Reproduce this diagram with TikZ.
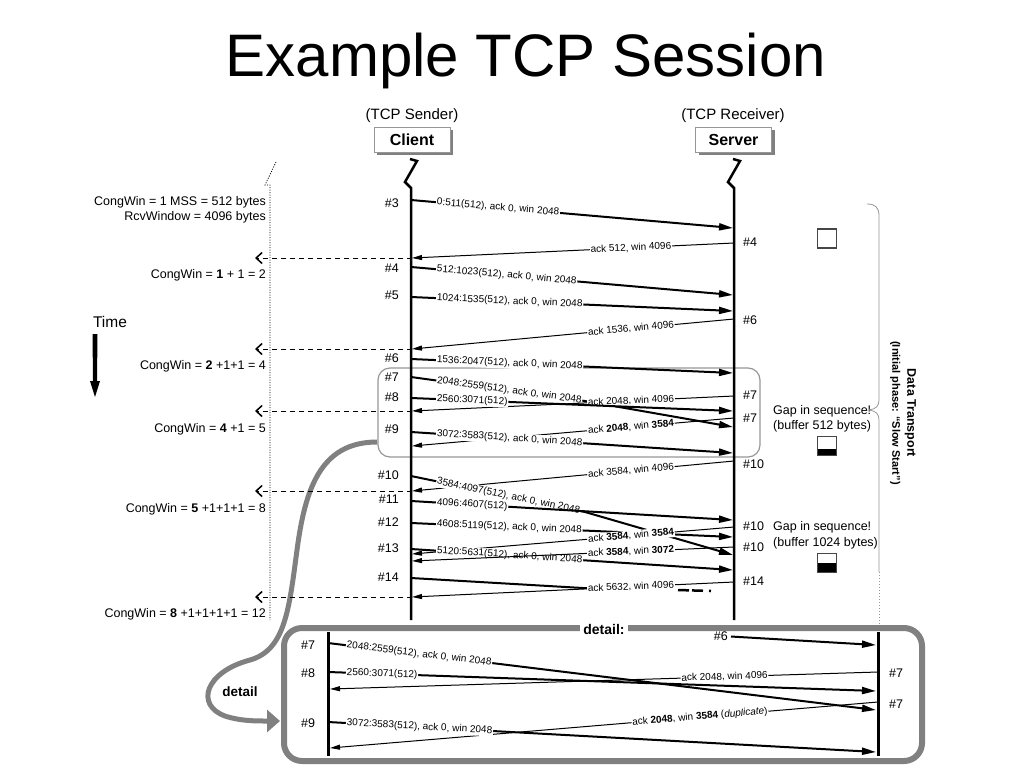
\documentclass[tikz,border=0pt]{standalone}
\usepackage{fontspec}
\setmainfont{Liberation Sans}
\usetikzlibrary{arrows.meta,shadows}
\definecolor{calloutgray}{RGB}{128,128,128}
\definecolor{framegray}{RGB}{150,150,150}
\definecolor{iconedge}{RGB}{70,70,70}
\begin{document}
\begin{tikzpicture}[x=1pt,y=-1pt,
  lbl/.style={font=\fontsize{12.5}{14}\selectfont, inner sep=0pt},
  lblr/.style={lbl, anchor=mid east},
  lbll/.style={lbl, anchor=mid west},
  msg/.style={font=\fontsize{10}{11}\selectfont, fill=white, inner sep=0.8pt, sloped},
  dmsg/.style={msg, pos=0.075, anchor=west},
  kmsg/.style={msg, pos=0.14, anchor=west},
  ddmsg/.style={msg, pos=0.031, anchor=west},
  amsg/.style={msg, pos=0.32},
  data/.style={line width=2pt, -{Triangle[length=14pt,width=7pt]}},
  ack/.style={line width=1pt, -{Triangle[length=10pt,width=5pt]}},
  cwarrow/.style={line width=1pt, dash pattern=on 5pt off 4pt, -{Straight Barb[length=6pt,width=11pt,line width=1.5pt]}},
  life/.style={line width=2.5pt},
  hostbox/.style={draw=framegray, fill=white, font=\bfseries\fontsize{16}{18}\selectfont, minimum width=76pt, minimum height=25pt, drop shadow={shadow xshift=3pt, shadow yshift=-3pt, fill=gray, opacity=1}},
  icon/.style={draw=iconedge, line width=1.5pt, minimum size=19pt, inner sep=0pt},
]
\useasboundingbox (0,0) rectangle (1024,768);

% title and hosts
\node[font=\fontsize{60}{60}\selectfont, anchor=base] (title) at (526,76) {Example TCP Session};
\node[font=\fontsize{15}{17}\selectfont] (sendlbl) at (412,116) {(TCP Sender)};
\node[font=\fontsize{15}{17}\selectfont] (recvlbl) at (733,116) {(TCP Receiver)};
\node[hostbox] (client) at (412,139.5) {Client};
\node[hostbox] (server) at (733.5,139.5) {Server};

% highlight box and callout
\node[draw=framegray, line width=1.2pt, rounded corners=12pt, minimum width=382pt, minimum height=89pt, inner sep=0pt] (hl) at (569,412.5) {};
\coordinate (hlout) at (377,442);
\coordinate (detin) at (280,721);
\draw[calloutgray, line width=5pt, -{Triangle[length=13pt,width=22pt]}] (hlout) .. controls (320,442) and (305,490) .. (297,550) .. controls (289,610) and (285,650) .. (250,660) .. controls (205,672) and (195,705) .. (225,716) .. controls (240,721) and (255,721) .. (detin);
\node[font=\bfseries\fontsize{13.5}{15}\selectfont] (detlbl) at (240,692) {detail};

% lifelines
\coordinate (ctop) at (411,188); \coordinate (cbot) at (411,620);
\draw[life] (410,159) -- (417,161) -- (405,182) -- (ctop) -- (cbot);
\coordinate (stop) at (734,188); \coordinate (sbot) at (734,620);
\draw[life] (733,159) -- (740,161) -- (728,182) -- (stop) -- (sbot);
\coordinate (htop) at (270,185); \coordinate (hbot) at (270,620);
\draw[line width=0.8pt, dash pattern=on 1pt off 1.5pt] (276,162) -- (265,185) -- (htop) -- (hbot);

% CongWin labels
\node[lblr] (cw0) at (266,203) {CongWin = 1 MSS = 512 bytes};
\node[lblr] (rw0) at (266,218) {RcvWindow = 4096 bytes};
\node[lblr] (cw1) at (266,276) {CongWin = \textbf{1} + 1 = 2};
\node[lblr] (cw2) at (266,367) {CongWin = \textbf{2} +1+1 = 4};
\node[lblr] (cw3) at (266,430) {CongWin = \textbf{4} +1 = 5};
\node[lblr] (cw4) at (266,510) {CongWin = \textbf{5} +1+1+1 = 8};
\node[lblr] (cw5) at (266,615) {CongWin = \textbf{8} +1+1+1+1 = 12};

% time arrow
\node[font=\fontsize{15.5}{17}\selectfont] (time) at (110,322) {Time};
\fill (92.5,334) -- (97.5,334) -- (97,381) -- (100,381) -- (95,397) -- (90,381) -- (93,381) -- cycle;

% sequence numbers, client side
\node[lblr] (n3) at (399,205) {\#3};
\node[lblr] (n4) at (399,270) {\#4};
\node[lblr] (n5) at (399,297) {\#5};
\node[lblr] (n6) at (399,360) {\#6};
\node[lblr] (n7) at (399,379) {\#7};
\node[lblr] (n8) at (399,399) {\#8};
\node[lblr] (n9) at (399,431) {\#9};
\node[lblr] (n10) at (399,477) {\#10};
\node[lblr] (n11) at (399,501) {\#11};
\node[lblr] (n12) at (399,524) {\#12};
\node[lblr] (n13) at (399,550) {\#13};
\node[lblr] (n14) at (399,579) {\#14};

% sequence numbers, server side
\node[lbll] (r4) at (743,244) {\#4};
\node[lbll] (r6) at (743,322) {\#6};
\node[lbll] (r7) at (743,397) {\#7};
\node[lbll] (r7b) at (743,420) {\#7};
\node[lbll] (r10) at (743,466) {\#10};
\node[lbll] (r10b) at (743,528) {\#10};
\node[lbll] (r10c) at (743,549) {\#10};
\node[lbll] (r14) at (743,583) {\#14};

% messages
\coordinate (c3) at (411,200); \coordinate (s3) at (733,228);
\draw[data] (c3) -- node[dmsg] {0:511(512), ack 0, win 2048} (s3);
\coordinate (s4) at (734,243); \coordinate (c4) at (412,258); \coordinate (w1) at (255,258);
\draw[ack] (s4) -- node[amsg] {ack 512, win 4096} (c4);
\draw[cwarrow] (c4) -- (w1);
\coordinate (c4d) at (411,267); \coordinate (s4d) at (733,295);
\draw[data] (c4d) -- node[dmsg] {512:1023(512), ack 0, win 2048} (s4d);
\coordinate (c5d) at (411,297); \coordinate (s5d) at (733,311);
\draw[data] (c5d) -- node[dmsg] {1024:1535(512), ack 0, win 2048} (s5d);
\coordinate (s6) at (734,319); \coordinate (c6) at (412,349); \coordinate (w2) at (255,349);
\draw[ack] (s6) -- node[amsg] {ack 1536, win 4096} (c6);
\draw[cwarrow] (c6) -- (w2);
\coordinate (c6d) at (411,359); \coordinate (s6d) at (733,373);
\draw[data] (c6d) -- node[dmsg] {1536:2047(512), ack 0, win 2048} (s6d);
\coordinate (c7d) at (411,377); \coordinate (k7d) at (585,401); \coordinate (s7d) at (733,427);
\draw[data] (c7d) -- node[kmsg] {2048:2559(512), ack 0, win 2048} (k7d) -- (s7d);
\coordinate (s7) at (734,396); \coordinate (c7) at (412,411); \coordinate (w3) at (255,411);
\draw[ack] (s7) -- node[amsg] {ack 2048, win 4096} (c7);
\draw[cwarrow] (c7) -- (w3);
\coordinate (c8d) at (411,398); \coordinate (s8d) at (733,411);
\draw[data] (c8d) -- node[dmsg] {2560:3071(512)} (s8d);
\coordinate (s7b) at (734,418); \coordinate (c7b) at (412,446);
\draw[ack] (s7b) -- node[amsg] {ack \textbf{2048}, win \textbf{3584}} (c7b);
\coordinate (c9d) at (411,432); \coordinate (s9d) at (733,453);
\draw[data] (c9d) -- node[dmsg] {3072:3583(512), ack 0, win 2048} (s9d);
\coordinate (s10) at (734,461); \coordinate (c10) at (412,491); \coordinate (w4) at (255,491);
\draw[ack] (s10) -- node[amsg] {ack 3584, win 4096} (c10);
\draw[cwarrow] (c10) -- (w4);
\coordinate (c10d) at (411,476); \coordinate (k10d) at (585,512); \coordinate (s10d) at (733,555);
\draw[data] (c10d) -- node[kmsg] {3584:4097(512), ack 0, win 2048} (k10d) -- (s10d);
\coordinate (c11d) at (411,501); \coordinate (s11d) at (733,520);
\draw[data] (c11d) -- node[dmsg] {4096:4607(512)} (s11d);
\coordinate (c12d) at (411,523); \coordinate (s12d) at (733,537);
\draw[data] (c12d) -- node[dmsg] {4608:5119(512), ack 0, win 2048} (s12d);
\coordinate (s10b) at (734,527); \coordinate (c10b) at (412,554);
\draw[ack] (s10b) -- node[amsg] {ack \textbf{3584}, win \textbf{3584}} (c10b);
\coordinate (c13d) at (411,549); \coordinate (s13d) at (733,570);
\draw[data] (c13d) -- node[dmsg] {5120:5631(512), ack 0, win 2048} (s13d);
\coordinate (s10c) at (734,547); \coordinate (c10c) at (412,561);
\draw[ack] (s10c) -- node[amsg] {ack \textbf{3584}, win \textbf{3072}} (c10c);
\coordinate (c14d) at (411,578); \coordinate (lost) at (600,589);
\draw[line width=2pt] (c14d) -- (lost);
\draw[line width=2.5pt, dash pattern=on 11pt off 3pt on 11pt off 6pt on 2pt off 20pt] (678,590) -- (711,591);
\coordinate (s14) at (734,582); \coordinate (c14) at (412,597); \coordinate (w5) at (255,597);
\draw[ack] (s14) -- node[amsg] {ack 5632, win 4096} (c14);
\draw[cwarrow] (c14) -- (w5);

% receiver buffer icons
\node[icon] (buf0) at (827,238.5) {};
\node[icon] (buf1) at (827,446) {};
\fill (818,449) rectangle (836,455);
\node[icon] (buf2) at (827,563) {};
\fill (818,563) rectangle (836,572);
\node[lbll] (gap1) at (773,412) {Gap in sequence!};
\node[lbll] (gap1b) at (773,427) {(buffer 512 bytes)};
\node[lbll] (gap2) at (773,528) {Gap in sequence!};
\node[lbll] (gap2b) at (773,544) {(buffer 1024 bytes)};

% brace
\draw[framegray, line width=0.8pt] (867,204) .. controls (876,204) and (879,208) .. (879,216) -- (879,400) .. controls (879,406) and (876,409) .. (869,410) .. controls (876,411) and (879,414) .. (879,420) -- (879,572);
\draw[framegray, line width=0.8pt, dash pattern=on 1pt off 2pt] (879,572) -- (879,624);
\node[rotate=-90, align=center, font=\bfseries\fontsize{11}{15}\selectfont] (phase) at (903,413) {{\fontsize{12.5}{15}\selectfont Data Transport}\\(Initial phase: “Slow Start”)};

% detail box
\node[draw=calloutgray, line width=6pt, rounded corners=18pt, minimum width=638pt, minimum height=133pt, inner sep=0pt] (detail) at (603,694.5) {};
\node[fill=white, font=\bfseries\fontsize{14}{16}\selectfont, inner sep=3pt] (dettitle) at (604,629) {detail:};
\coordinate (dct) at (328,632); \coordinate (dcb) at (328,756);
\coordinate (dst) at (878,632); \coordinate (dsb) at (878,756);
\draw[line width=3pt] (dct) -- (dcb);
\draw[line width=3pt] (dst) -- (dsb);
\node[lblr] (dn6) at (728,638) {\#6};
\coordinate (ds6) at (876,645);
\draw[data, shorten <=3pt] (dn6.east) -- (ds6);
\node[lbl] (dn7) at (308,645) {\#7};
\node[lbl] (dn8) at (308,673) {\#8};
\node[lbl] (dn9) at (308,723) {\#9};
\node[lbl] (dr7) at (896,673) {\#7};
\node[lbl] (dr7b) at (896,704) {\#7};
\coordinate (dc7) at (328,643); \coordinate (ds7) at (876,710);
\draw[data] (dc7) -- node[ddmsg] {2048:2559(512), ack 0, win 2048} (ds7);
\coordinate (dc8) at (328,672); \coordinate (ds8) at (876,691);
\draw[data] (dc8) -- node[ddmsg] {2560:3071(512)} (ds8);
\coordinate (das7) at (878,672); \coordinate (dac7) at (330,689);
\draw[ack] (das7) -- node[msg, pos=0.28] {ack 2048, win 4096} (dac7);
\coordinate (das7b) at (878,702); \coordinate (dac7b) at (330,748);
\draw[ack] (das7b) -- node[msg, pos=0.325] {ack \textbf{2048}, win \textbf{3584} (\textit{duplicate})} (dac7b);
\coordinate (dc9) at (328,722); \coordinate (ds9) at (876,752);
\draw[data] (dc9) -- node[ddmsg] {3072:3583(512), ack 0, win 2048} (ds9);
\end{tikzpicture}
\end{document}
